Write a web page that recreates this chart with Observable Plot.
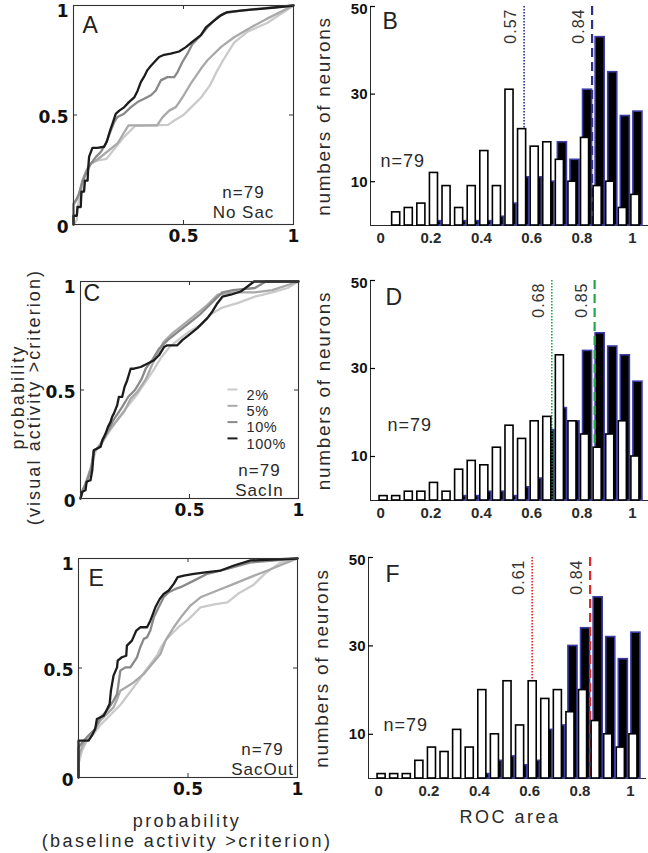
<!DOCTYPE html>
<html><head><meta charset="utf-8">
<script src="https://cdn.jsdelivr.net/npm/d3@7"></script>
<script src="https://cdn.jsdelivr.net/npm/@observablehq/plot@0.6"></script>
<style>
body{margin:0;background:#fff;}
#fig{position:relative;width:648px;height:853px;overflow:hidden;background:#fff;font-family:"Liberation Sans",Arial,sans-serif;color:#2a2a2a;}
.lab{position:absolute;font-size:18px;white-space:nowrap;text-align:center;}
.hist g[aria-label^="x-axis"]{font:bold 15px "Liberation Sans",Arial,sans-serif;letter-spacing:0;}
</style></head><body><div id="fig"></div>
<script>
// ---------- data ----------
const contrasts = ["2%", "5%", "10%", "100%"];
const rocTicksX = [0.5, 1];
const rocTicksY = [0, 0.5, 1];
const histTicksX = [0, 0.2, 0.4, 0.6, 0.8, 1];
const histTicksY = [10, 30, 50];
const binCenters = [0, 0.05, 0.1, 0.15, 0.2, 0.25, 0.3, 0.35, 0.4, 0.45, 0.5, 0.55, 0.6, 0.65, 0.7, 0.75, 0.8, 0.85, 0.9, 0.95, 1];
const neuronCount = "n=79";
const panelLetters = ["A", "B", "C", "D", "E", "F"];
const conditions = ["No Sac", "SacIn", "SacOut"];
const yTitleRoc = ["probability", "(visual activity >criterion)"];
const xTitleRoc = ["probability", "(baseline activity >criterion)"];
const yTitleHist = "numbers of neurons";
const xTitleHist = "ROC area";

// ROC curves [x = P(baseline > criterion), y = P(visual > criterion)]
const rocA_2 = [[0,0],[0.015,0.02],[0.02,0.09],[0.04,0.15],[0.05,0.22],[0.07,0.27],[0.1,0.29],[0.15,0.3],[0.19,0.35],[0.23,0.4],[0.28,0.45],[0.43,0.455],[0.46,0.476],[0.5,0.5],[0.53,0.53],[0.58,0.58],[0.62,0.635],[0.65,0.696],[0.68,0.75],[0.73,0.83],[0.79,0.88],[0.88,0.92],[1,1]];
const rocA_5 = [[0,0],[0,0.09],[0.02,0.12],[0.04,0.2],[0.06,0.25],[0.08,0.28],[0.1,0.29],[0.15,0.33],[0.2,0.37],[0.23,0.42],[0.25,0.453],[0.38,0.453],[0.405,0.49],[0.435,0.52],[0.465,0.536],[0.495,0.58],[0.533,0.643],[0.579,0.711],[0.609,0.75],[0.67,0.81],[0.73,0.855],[0.806,0.9],[0.88,0.94],[1,1]];
const rocA_10 = [[0,0],[0,0.096],[0.011,0.111],[0.026,0.141],[0.041,0.195],[0.056,0.233],[0.079,0.278],[0.102,0.309],[0.124,0.331],[0.147,0.369],[0.17,0.43],[0.185,0.468],[0.2,0.491],[0.23,0.506],[0.261,0.536],[0.291,0.559],[0.321,0.574],[0.352,0.59],[0.374,0.612],[0.397,0.658],[0.427,0.673],[0.458,0.673],[0.473,0.696],[0.495,0.742],[0.518,0.78],[0.541,0.825],[0.579,0.863],[0.609,0.901],[0.655,0.947],[0.685,0.965],[0.761,0.977],[0.882,0.989],[1,1]];
const rocA_100 = [[0,0],[0,0.04],[0.015,0.04],[0.018,0.08],[0.033,0.08],[0.036,0.15],[0.048,0.15],[0.052,0.2],[0.064,0.2],[0.067,0.26],[0.071,0.31],[0.086,0.35],[0.109,0.35],[0.139,0.355],[0.152,0.38],[0.162,0.415],[0.17,0.44],[0.177,0.46],[0.192,0.505],[0.208,0.52],[0.23,0.535],[0.253,0.56],[0.276,0.58],[0.291,0.61],[0.306,0.65],[0.321,0.675],[0.336,0.705],[0.352,0.725],[0.389,0.765],[0.412,0.775],[0.442,0.78],[0.48,0.79],[0.511,0.81],[0.541,0.835],[0.579,0.865],[0.602,0.9],[0.632,0.925],[0.67,0.955],[0.7,0.97],[0.761,0.977],[0.852,0.985],[0.927,0.992],[1,1]];

const rocC_2 = [[0,0],[0.01,0.03],[0.03,0.08],[0.05,0.15],[0.07,0.22],[0.1,0.26],[0.14,0.32],[0.18,0.38],[0.22,0.43],[0.26,0.48],[0.3,0.54],[0.34,0.6],[0.37,0.65],[0.41,0.7],[0.46,0.74],[0.5,0.77],[0.55,0.8],[0.6,0.85],[0.65,0.88],[0.72,0.9],[0.8,0.93],[0.88,0.95],[0.95,0.97],[1,1]];
const rocC_5 = [[0,0],[0.01,0.03],[0.03,0.09],[0.05,0.15],[0.06,0.21],[0.09,0.25],[0.12,0.3],[0.16,0.35],[0.2,0.4],[0.23,0.46],[0.26,0.49],[0.3,0.55],[0.33,0.62],[0.35,0.66],[0.38,0.72],[0.42,0.76],[0.47,0.8],[0.52,0.84],[0.58,0.89],[0.63,0.94],[0.7,0.95],[0.8,0.95],[0.88,0.96],[1,1]];
const rocC_10 = [[0,0],[0.01,0.04],[0.03,0.08],[0.05,0.14],[0.06,0.22],[0.09,0.24],[0.12,0.3],[0.15,0.36],[0.19,0.42],[0.22,0.47],[0.25,0.5],[0.28,0.55],[0.3,0.6],[0.33,0.64],[0.36,0.69],[0.4,0.73],[0.45,0.77],[0.5,0.81],[0.55,0.85],[0.6,0.9],[0.65,0.95],[0.7,0.96],[0.8,0.97],[0.85,1],[1,1]];
const rocC_100 = [[0,0],[0.008,0.031],[0.023,0.038],[0.028,0.077],[0.046,0.084],[0.054,0.13],[0.061,0.222],[0.077,0.23],[0.092,0.238],[0.1,0.268],[0.115,0.299],[0.126,0.33],[0.138,0.353],[0.145,0.376],[0.153,0.391],[0.168,0.429],[0.176,0.468],[0.191,0.468],[0.202,0.514],[0.214,0.544],[0.23,0.598],[0.245,0.598],[0.276,0.606],[0.306,0.621],[0.337,0.637],[0.36,0.66],[0.383,0.698],[0.398,0.706],[0.444,0.706],[0.467,0.73],[0.505,0.76],[0.536,0.785],[0.559,0.808],[0.582,0.831],[0.605,0.862],[0.628,0.9],[0.651,0.93],[0.689,0.939],[0.735,0.954],[0.766,0.977],[0.796,1],[1,1]];

const rocE_2 = [[0,0],[0,0.06],[0.015,0.12],[0.04,0.17],[0.07,0.2],[0.1,0.24],[0.13,0.27],[0.16,0.3],[0.19,0.33],[0.22,0.37],[0.25,0.41],[0.28,0.45],[0.3,0.48],[0.33,0.52],[0.36,0.56],[0.38,0.6],[0.4,0.63],[0.43,0.66],[0.46,0.69],[0.5,0.72],[0.557,0.777],[0.62,0.79],[0.68,0.8],[0.73,0.84],[0.8,0.88],[0.85,0.93],[0.92,0.98],[1,1]];
const rocE_5 = [[0,0],[0,0.09],[0.015,0.137],[0.038,0.183],[0.069,0.213],[0.099,0.259],[0.13,0.29],[0.16,0.32],[0.176,0.358],[0.191,0.396],[0.252,0.434],[0.298,0.473],[0.336,0.518],[0.374,0.564],[0.397,0.625],[0.435,0.686],[0.473,0.739],[0.511,0.785],[0.557,0.823],[0.634,0.854],[0.71,0.884],[0.802,0.922],[0.863,0.945],[0.939,0.976],[1,1]];
const rocE_10 = [[0,0],[0,0.137],[0.023,0.168],[0.053,0.198],[0.076,0.221],[0.099,0.274],[0.13,0.305],[0.16,0.351],[0.176,0.381],[0.191,0.488],[0.214,0.503],[0.237,0.503],[0.267,0.549],[0.282,0.595],[0.298,0.633],[0.313,0.64],[0.328,0.671],[0.344,0.732],[0.366,0.777],[0.389,0.823],[0.412,0.846],[0.443,0.861],[0.466,0.869],[0.527,0.899],[0.588,0.93],[0.679,0.953],[0.786,0.982],[1,1]];
const rocE_100 = [[0,0],[0,0.168],[0.046,0.168],[0.061,0.191],[0.076,0.221],[0.084,0.267],[0.115,0.282],[0.127,0.305],[0.142,0.335],[0.148,0.396],[0.16,0.465],[0.176,0.503],[0.179,0.534],[0.198,0.549],[0.218,0.556],[0.221,0.602],[0.244,0.625],[0.264,0.671],[0.282,0.686],[0.313,0.686],[0.328,0.716],[0.34,0.747],[0.351,0.777],[0.371,0.815],[0.389,0.838],[0.412,0.854],[0.435,0.884],[0.453,0.915],[0.481,0.922],[0.527,0.93],[0.588,0.938],[0.649,0.945],[0.71,0.968],[0.786,0.991],[1,1]];

// Histograms of ROC area (counts per 0.05 bin); white = open bars, black = filled bars
const histB_white = [0,3,4,5,12,9,4,9,17,9,31,22,18,19,15,10,20,9,10,4,7];
const histB_black = [0,0,0,0,1,0,1,1,1,2,5,11,11,10,19,15,31,43,35,25,26];
const histD_white = [1,1,2,2,4,2,7,9,8,12,17,14,18,19,33,18,15,12,15,18,10];
const histD_black = [0,0,0,0,0,0,1,1,2,2,1,3,5,16,21,18,34,38,35,33,27];
const histF_white = [1,1,1,4,7,6,11,7,20,10,22,12,22,18,20,15,20,13,10,7,10];
const histF_black = [0,0,0,0,0,0,0,0,1,4,5,3,4,11,12,30,34,41,32,27,33];
const meansB = [0.57, 0.84];
const meansD = [0.68, 0.85];
const meansF = [0.61, 0.84];

// ---------- drawing ----------
const fig = document.getElementById("fig");
const rocColors = ["#cacaca", "#a9a9a9", "#898989", "#1c1c1c"];
const baseStyle = {background: "transparent", overflow: "visible", fontFamily: "'Liberation Sans', Arial, sans-serif", color: "#2a2a2a"};
const tickFont = {fontFamily: "DejaVu Sans", fontWeight: "bold", fontSize: 17, fill: "#111"};
const histTickFont = {fontFamily: "Liberation Sans, Arial, sans-serif", fontWeight: "bold", fontSize: 15, fill: "#111"};

function place(svg, cls, left, top) {
  svg.classList.add(cls);
  svg.style.position = "absolute";
  svg.style.left = left + "px";
  svg.style.top = top + "px";
  fig.appendChild(svg);
  return svg;
}
function spacing(svg, text, px) {
  svg.querySelectorAll("text").forEach(t => { if (t.textContent === text) t.style.letterSpacing = px; });
}
function noSpacing(svg, family) {
  svg.querySelectorAll("g").forEach(g => { if (g.getAttribute("font-weight") === "bold") g.style.letterSpacing = "0px"; });
}

function rocPanel(c) {
  const pw = c.w - c.mL - c.mR, ph = c.h - c.mT - c.mB;
  const topY = d3.max(rocTicksY);
  const marks = [
    ...c.curves.map((pts, i) => Plot.line(pts, {x: d => d[0], y: d => d[1], stroke: rocColors[i], strokeWidth: 2.3, strokeLinejoin: "round"})),
    Plot.frame({stroke: "#333", strokeWidth: 1.1}),
    Plot.tickX([0.5], {insetTop: ph - 4, stroke: "#333"}),
    Plot.tickX([0.5], {insetBottom: ph - 4, stroke: "#333"}),
    Plot.tickY([0.5], {insetRight: pw - 4, stroke: "#333"}),
    Plot.tickY([0.5], {insetLeft: pw - 4, stroke: "#333"}),
    Plot.text(rocTicksY.filter(v => v !== topY), {y: d => d, frameAnchor: "left", dx: -5, dy: 3, textAnchor: "end", text: d => String(d), ...tickFont}),
    Plot.text([topY], {y: d => d, frameAnchor: "left", dx: -5, dy: -1, textAnchor: "end", lineAnchor: "top", text: d => String(d), ...tickFont}),
    Plot.text(rocTicksX, {x: d => d, frameAnchor: "bottom", dy: 17, text: d => String(d), ...tickFont}),
    Plot.text([c.letter], {frameAnchor: "top-left", dx: c.ldx, dy: c.ldy, lineAnchor: "top", fontSize: 23, fill: "#222"}),
    Plot.text([neuronCount + "\n" + c.cond], {frameAnchor: "bottom-right", dx: c.ndx, dy: c.ndy, lineAnchor: "bottom", textAnchor: "middle", fontSize: 17, lineHeight: 1.17, fill: "#2a2a2a"})
  ];
  if (c.legend) {
    contrasts.forEach((lab, i) => {
      marks.push(Plot.dot([lab], {frameAnchor: "top-left", dx: 152, dy: 108 + 16.3 * i, stroke: rocColors[i], strokeWidth: 2,
        symbol: {draw(ctx) { ctx.moveTo(-5, 0); ctx.lineTo(5, 0); }}}));
      marks.push(Plot.text([lab], {frameAnchor: "top-left", dx: 166, dy: 108 + 16.3 * i, textAnchor: "start", fontSize: 14.5, fill: "#2a2a2a"}));
    });
  }
  const svg = Plot.plot({
    width: c.w, height: c.h, marginLeft: c.mL, marginRight: c.mR, marginTop: c.mT, marginBottom: c.mB,
    style: {...baseStyle, fontSize: "18px", letterSpacing: "1px"},
    x: {domain: [0, 1], axis: null},
    y: {domain: [0, 1], axis: null},
    marks
  });
  noSpacing(svg);
  contrasts.forEach(lab => spacing(svg, lab, "0.6px"));
  return place(svg, "roc", c.left, c.top);
}

function histPanel(c) {
  const pw = c.w - c.mL - c.mR;
  const topY = d3.max(histTicksY);
  const rows = binCenters.map((b, i) => ({b, white: c.white[i], black: c.black[i]}));
  const svg = Plot.plot({
    width: c.w, height: c.h, marginLeft: c.mL, marginRight: c.mR, marginTop: c.mT, marginBottom: c.mB,
    style: {...baseStyle, fontSize: "18px", letterSpacing: "1px"},
    x: {domain: [-0.04, 1.06], ticks: histTicksX, tickFormat: d => String(d), tickSize: 0, tickPadding: 7, line: true, label: null},
    y: {domain: [0, 50], ticks: histTicksY, tickFormat: () => "", tickSize: 0, tickPadding: 3, line: true, label: null},
    marks: [
      Plot.rect(rows.filter(d => d.black > 0), {x1: d => d.b + 0.004, x2: d => d.b + 0.04, y1: 0, y2: "black", fill: "#000", stroke: "#3c3ca6", strokeWidth: 1.6}),
      Plot.ruleX([c.means[0]], {stroke: c.color, strokeWidth: 1.6, strokeDasharray: "1.4,1.6"}),
      Plot.ruleX([c.means[1]], {stroke: c.color, strokeWidth: 2.2, strokeDasharray: "9,5"}),
      Plot.rect(rows.filter(d => d.white > 0), {x1: d => d.b - 0.004, x2: d => d.b + 0.028, y1: 0, y2: "white", fill: "#fff", stroke: "#000", strokeWidth: 1.6}),
      Plot.tickY(histTicksY, {y: d => d, insetRight: pw - 5, stroke: "#000", strokeWidth: 1.2}),
      Plot.text(histTicksY.filter(v => v !== topY), {y: d => d, frameAnchor: "left", dx: -3, textAnchor: "end", text: d => String(d), ...histTickFont}),
      Plot.text([topY], {y: d => d, frameAnchor: "left", dx: -3, dy: -3, lineAnchor: "top", textAnchor: "end", text: d => String(d), ...histTickFont}),
      Plot.text(c.means, {x: d => d, frameAnchor: "top", text: d => d.toFixed(2), rotate: -90, textAnchor: "end", lineAnchor: "middle", dx: -13, dy: 2, fontSize: 16, fill: "#333"}),
      Plot.text([c.letter], {frameAnchor: "top-left", dx: c.ldx, dy: c.ldy, lineAnchor: "top", fontSize: 23, fill: "#222"}),
      Plot.text([neuronCount], {frameAnchor: "top-left", dx: c.ndx, dy: c.ndy, lineAnchor: "top", fontSize: 18, fill: "#2a2a2a"}),
      Plot.text([yTitleHist], {frameAnchor: "left", dx: -47, rotate: -90, textAnchor: "middle", lineAnchor: "middle", fontSize: 19, fill: "#2a2a2a"})
    ]
  });
  noSpacing(svg);
  spacing(svg, yTitleHist, "1.7px");
  return place(svg, "hist", c.left, c.top);
}

rocPanel({curves: [rocA_2, rocA_5, rocA_10, rocA_100], letter: panelLetters[0], cond: conditions[0], left: 0, top: 0, w: 305, h: 258, mL: 73, mR: 12, mT: 5, mB: 34, ldx: 9, ldy: 11, ndx: -50, ndy: -7});
rocPanel({curves: [rocC_2, rocC_5, rocC_10, rocC_100], letter: panelLetters[2], cond: conditions[1], legend: true, left: 0, top: 270, w: 305, h: 262, mL: 80, mR: 7, mT: 11, mB: 34, ldx: 3, ldy: 3, ndx: -39, ndy: -3});
rocPanel({curves: [rocE_2, rocE_5, rocE_10, rocE_100], letter: panelLetters[4], cond: conditions[2], left: 0, top: 550, w: 305, h: 262, mL: 78, mR: 8, mT: 8, mB: 35, ldx: 10, ldy: 11, ndx: -35, ndy: -3});

histPanel({white: histB_white, black: histB_black, means: meansB, color: "#2e2e8e", letter: panelLetters[1], left: 300, top: 0, w: 348, h: 258, mL: 70, mR: 1, mT: 6, mB: 33, ldx: 12, ldy: 6, ndx: 10, ndy: 148});
histPanel({white: histD_white, black: histD_black, means: meansD, color: "#1faa4a", letter: panelLetters[3], left: 300, top: 270, w: 348, h: 262, mL: 70, mR: 1, mT: 10, mB: 32, ldx: 15, ldy: 8, ndx: 17, ndy: 138});
histPanel({white: histF_white, black: histF_black, means: meansF, color: "#e02828", letter: panelLetters[5], left: 300, top: 550, w: 348, h: 262, mL: 68, mR: 3, mT: 7, mB: 34, ldx: 17, ldy: 8, ndx: 15, ndy: 161});

// axis titles
function label(lines, css) {
  const d = document.createElement("div");
  d.className = "lab";
  d.innerHTML = lines.map(s => `<div>${s.replace(/>/g, "&gt;")}</div>`).join("");
  Object.assign(d.style, css);
  fig.appendChild(d);
}
label(yTitleRoc, {left: "-124px", top: "381px", width: "300px", lineHeight: "16px", letterSpacing: "2.1px", transform: "rotate(-90deg)", transformOrigin: "150px 16px"});
label(xTitleRoc, {left: "27px", top: "811px", width: "320px", lineHeight: "20px", letterSpacing: "2.4px"});
label([xTitleHist], {left: "410px", top: "807px", width: "200px", lineHeight: "20px", letterSpacing: "2.5px"});
</script>
</body></html>
